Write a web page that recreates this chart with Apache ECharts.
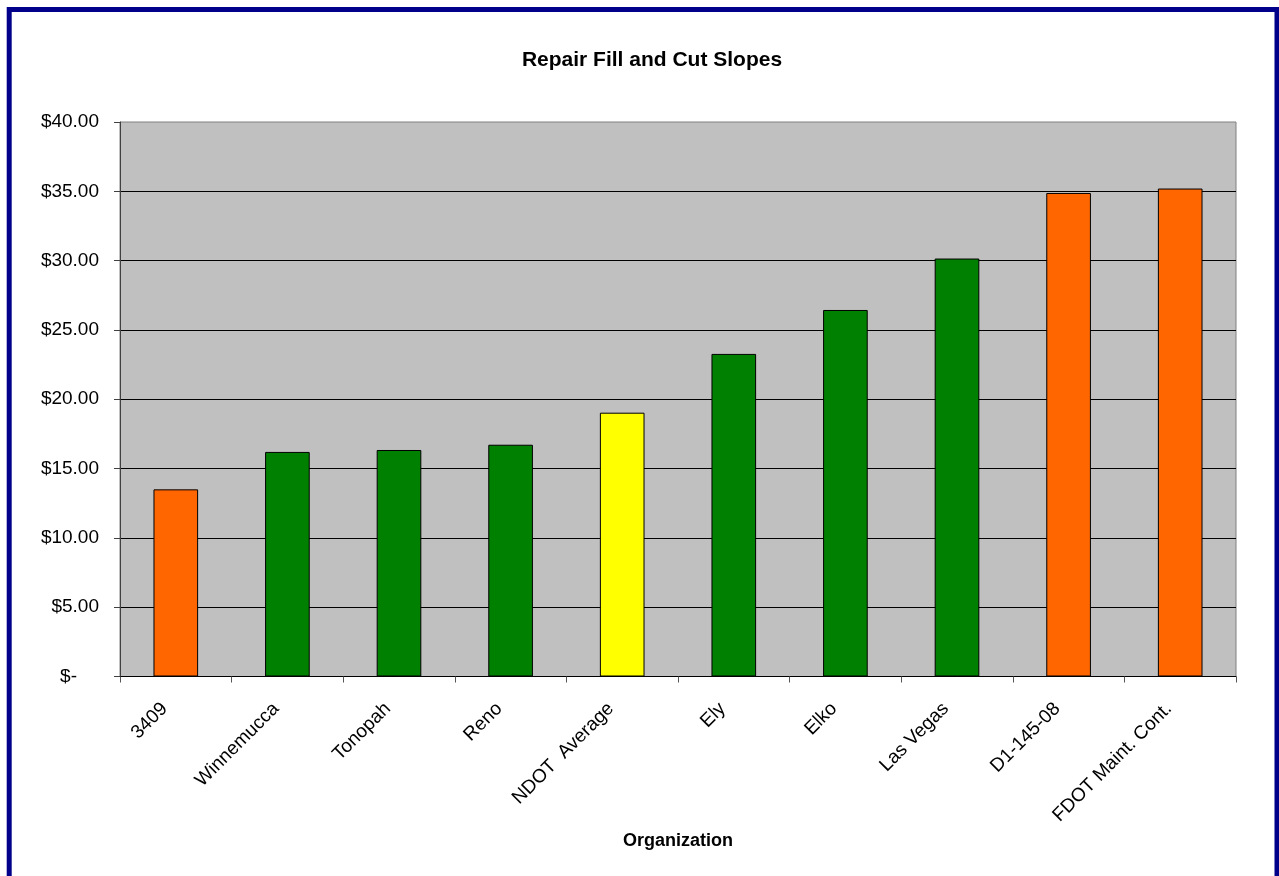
<!DOCTYPE html>
<html>
<head>
<meta charset="utf-8">
<title>Repair Fill and Cut Slopes</title>
<script src="https://cdn.jsdelivr.net/npm/echarts@6/dist/echarts.min.js"></script>
<style>
  html, body { margin: 0; padding: 0; background: #ffffff; }
  #chart { width: 1279px; height: 876px; }
</style>
</head>
<body>
<div id="chart"></div>
<script>
// Cost per unit for repairing fill and cut slopes, by organization
const organizations = ['3409', 'Winnemucca', 'Tonopah', 'Reno', 'NDOT  Average', 'Ely', 'Elko', 'Las Vegas', 'D1-145-08', 'FDOT Maint. Cont.'];
const unitCosts = [13.50, 16.20, 16.34, 16.72, 19.03, 23.27, 26.44, 30.15, 34.88, 35.20];
// Kind of organization for each bar: outside agency, NDOT district, or statewide average
const orgKinds = ['outside', 'district', 'district', 'district', 'average', 'district', 'district', 'district', 'outside', 'outside'];
const yTicks = [0, 5, 10, 15, 20, 25, 30, 35, 40];

const kindColors = { outside: '#FF6600', district: '#008000', average: '#FFFF00' };
const FONT = '"Liberation Sans", Arial, sans-serif';

const chart = echarts.init(document.getElementById('chart'), null, { renderer: 'canvas' });

chart.setOption({
  backgroundColor: '#ffffff',
  animation: false,
  title: {
    text: 'Repair Fill and Cut Slopes',
    left: 647,
    top: 45,
    textAlign: 'center',
    textStyle: { fontFamily: FONT, fontSize: 21, fontWeight: 'bold', color: '#000000' }
  },
  graphic: [{
    type: 'rect',
    shape: { x: 9.2, y: 9.5, width: 1267.8, height: 900 },
    style: { fill: 'none', stroke: '#00008B', lineWidth: 5 },
    silent: true,
    z: 100
  }],
  grid: {
    left: 120, right: 43, top: 122, bottom: 199.5,
    show: true,
    backgroundColor: '#C0C0C0',
    borderColor: '#808080',
    borderWidth: 1
  },
  xAxis: {
    type: 'category',
    data: organizations,
    boundaryGap: true,
    name: 'Organization',
    nameLocation: 'middle',
    nameGap: 153,
    nameTextStyle: { fontFamily: FONT, fontSize: 18, fontWeight: 'bold', color: '#000000' },
    axisLine: { lineStyle: { color: '#000000', width: 1 } },
    axisTick: { show: true, length: 6, alignWithLabel: false, lineStyle: { color: '#555555' } },
    axisLabel: {
      rotate: 45,
      margin: 18,
      interval: 0,
      padding: [0, 16, 0, 0],
      fontFamily: FONT,
      fontSize: 19,
      color: '#000000'
    }
  },
  yAxis: {
    type: 'value',
    min: yTicks[0],
    max: yTicks[yTicks.length - 1],
    interval: yTicks[1] - yTicks[0],
    axisLine: { show: true, lineStyle: { color: '#404040', width: 1 } },
    axisTick: { show: true, length: 6, lineStyle: { color: '#404040' } },
    splitLine: { show: true, showMinLine: false, showMaxLine: false, lineStyle: { color: '#000000', width: 1 } },
    axisLabel: {
      margin: 21,
      fontFamily: FONT,
      fontSize: 19,
      color: '#000000',
      // Currency labels; zero is written as a dash with room left for the cents
      formatter: function (v) {
        if (v === 0) return '{t|$-}{s|}';
        return '{t|$' + v.toFixed(2) + '}';
      },
      rich: {
        t: { fontFamily: FONT, fontSize: 19, color: '#000000' },
        s: { width: 22, fontFamily: FONT, fontSize: 19 }
      }
    }
  },
  series: [{
    type: 'bar',
    data: unitCosts,
    barCategoryGap: '60%',
    itemStyle: {
      color: function (p) { return kindColors[orgKinds[p.dataIndex]]; },
      borderColor: '#000000',
      borderWidth: 1
    },
    emphasis: { disabled: true }
  }]
});
</script>
</body>
</html>
